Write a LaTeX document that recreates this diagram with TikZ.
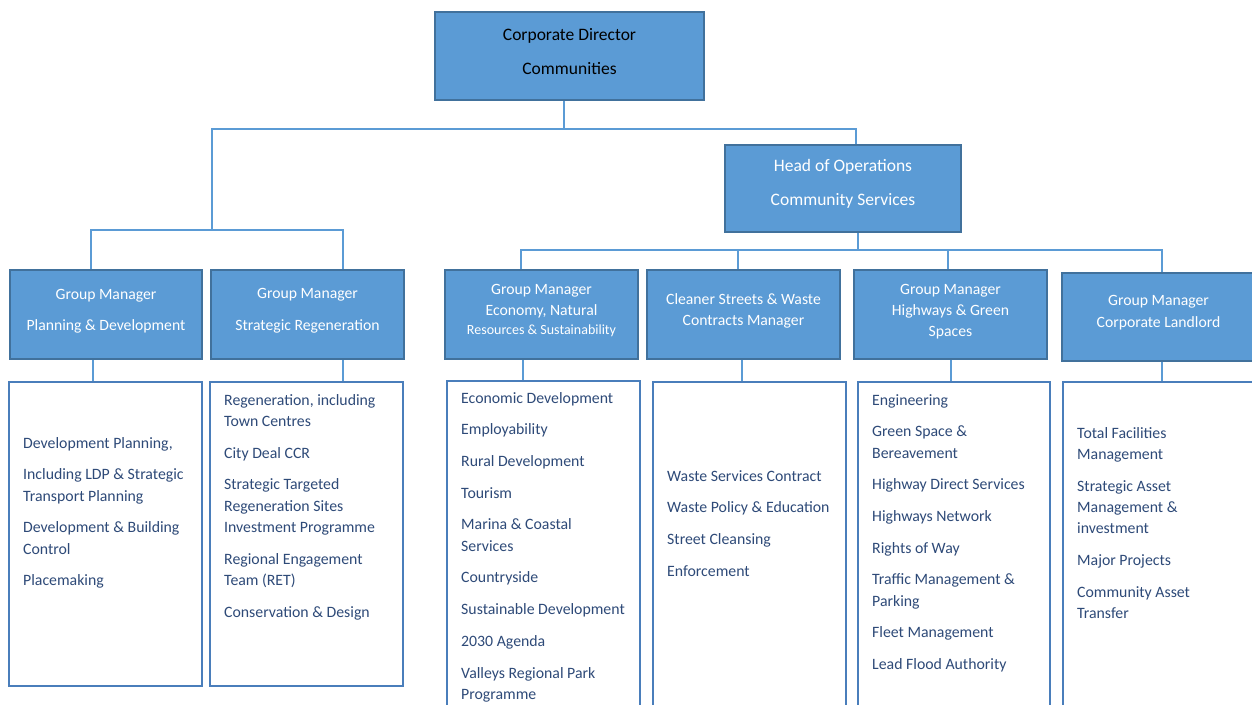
\documentclass[tikz,border=0pt]{standalone}
\usepackage{fontspec}
\setmainfont{Carlito}

\definecolor{boxfill}{HTML}{5B9BD5}
\definecolor{boxline}{HTML}{41719C}
\definecolor{listline}{HTML}{4A7EBB}
\definecolor{listtext}{HTML}{2E4A78}
\newcommand{\nx}{\\[10.4pt]}

\begin{document}
\begin{tikzpicture}[x=1pt,y=-1pt,
	grp/.style={draw=boxline,fill=boxfill,line width=1.8pt,inner sep=0pt},
	lst/.style={draw=listline,fill=white,line width=1.8pt,inner sep=0pt},
	grptext/.style={text=white,align=center,inner sep=0pt,font=\fontsize{15.7}{21}\selectfont},
	toptext/.style={grptext,font=\fontsize{17.5}{34}\selectfont},
	lsttext/.style={text=listtext,align=left,anchor=north west,inner sep=0pt,font=\fontsize{15.8}{21.3}\selectfont},
	conn/.style={draw=boxfill,line width=1.5pt}]
	\useasboundingbox (0,0) rectangle (1252,704);
	\clip (0,0) rectangle (1252,704);

	% top of the tree
	\node[grp,minimum width=269,minimum height=88] (dir) at (569.5,56) {};
	\node[toptext,text=black] (dir-t) at (569.5,51.5) {Corporate Director\\Communities};
	\node[grp,minimum width=236,minimum height=87] (head) at (843,188.5) {};
	\node[toptext] (head-t) at (843,183.5) {Head of Operations\\Community Services};

	% group managers
	\node[grp,minimum width=192,minimum height=89] (pd) at (106,314.5) {};
	\node[grptext] (pd-t) at (106,311) {Group Manager\\[10pt]Planning \& Development};
	\node[grp,minimum width=193,minimum height=89] (sr) at (307.5,314.5) {};
	\node[grptext] (sr-t) at (307.5,310.5) {Group Manager\\[11pt]Strategic Regeneration};
	\node[grp,minimum width=193,minimum height=89] (en) at (541.5,314.5) {};
	\node[grptext] (en-t) at (541.5,311) {Group Manager\\Economy, Natural\\[-2pt]{\fontsize{14}{19}\selectfont Resources \& Sustainability}};
	\node[grp,minimum width=193,minimum height=89] (cs) at (743.5,314.5) {};
	\node[grptext] (cs-t) at (743.5,311) {Cleaner Streets \& Waste\\Contracts Manager};
	\node[grp,minimum width=193,minimum height=89] (hg) at (950.5,314.5) {};
	\node[grptext] (hg-t) at (950.5,311.5) {Group Manager\\Highways \& Green\\Spaces};
	\node[grp,minimum width=193,minimum height=88] (ll) at (1158.5,317) {};
	\node[grptext] (ll-t) at (1158.5,312.5) {Group Manager\\[1pt]Corporate Landlord};

	% service lists
	\node[lst,minimum width=193,minimum height=304] (pd-l) at (105.5,534) {};
	\node[lst,minimum width=193,minimum height=304] (sr-l) at (306.5,534) {};
	\node[lst,minimum width=193,minimum height=339] (en-l) at (543.5,550.5) {};
	\node[lst,minimum width=193,minimum height=338] (cs-l) at (749.5,551) {};
	\node[lst,minimum width=192,minimum height=338] (hg-l) at (954,551) {};
	\node[lst,minimum width=193,minimum height=338] (ll-l) at (1159.5,551) {};

	\node[lsttext] (pd-x) at (23,437) {Development Planning,\nx Including LDP \& Strategic\\Transport Planning\nx Development \& Building\\Control\nx Placemaking};
	\node[lsttext] (sr-x) at (224,394) {Regeneration, including\\Town Centres\nx City Deal CCR\nx Strategic Targeted\\Regeneration Sites\\Investment Programme\nx Regional Engagement\\Team (RET)\nx Conservation \& Design};
	\node[lsttext] (en-x) at (461,392) {Economic Development\nx Employability\nx Rural Development\nx Tourism\nx Marina \& Coastal\\Services\nx Countryside\nx Sustainable Development\nx 2030 Agenda\nx Valleys Regional Park\\Programme};
	\node[lsttext] (cs-x) at (667,470) {Waste Services Contract\nx Waste Policy \& Education\nx Street Cleansing\nx Enforcement};
	\node[lsttext] (hg-x) at (872,394) {Engineering\nx Green Space \&\\Bereavement\nx Highway Direct Services\nx Highways Network\nx Rights of Way\nx Traffic Management \&\\Parking\nx Fleet Management\nx Lead Flood Authority};
	\node[lsttext] (ll-x) at (1077,427) {Total Facilities\\Management\nx Strategic Asset\\Management \&\\investment\nx Major Projects\nx Community Asset\\Transfer};

	% connectors
	\coordinate (lj) at (212,230);
	\coordinate (rj) at (858,250);
	\draw[conn] ([xshift=-5.5]dir.south) -- ++(0,28) -| (lj);
	\draw[conn] ([xshift=-5.5]dir.south) -- ++(0,28) -| ([xshift=13]head.north);
	\draw[conn] ([xshift=-15]pd.north) |- (lj) -| ([xshift=35.5]sr.north);
	\draw[conn] ([xshift=15]head.south) -- (rj);
	\draw[conn] ([xshift=-20.5]en.north) |- (rj) -| ([xshift=3.5]ll.north);
	\draw[conn] (rj) -| ([xshift=-5.5]cs.north);
	\draw[conn] (rj) -| ([xshift=-2.5]hg.north);
	\foreach \g/\s in {pd/-13,sr/35.5,en/-18.5,cs/-1.5,hg/0.5,ll/3.5}
		\draw[conn] ([xshift=\s]\g.south) coordinate (\g-b) -- (\g-b |- \g-l.north);
\end{tikzpicture}
\end{document}
